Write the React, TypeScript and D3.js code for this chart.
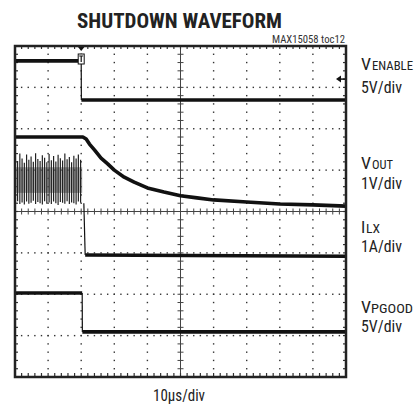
import React from "react";
import * as d3 from "d3";

// time axis: 0..100 µs (10 µs/div), vertical: 0..8 divisions
const xDomain = [0, 100];
const yDomain = [0, 8];

// VENABLE trace (div units)
const enableT = [0, 20, 20.05, 100];
const enableV = [7.64, 7.64, 6.695, 6.695];

// VOUT trace (div units)
const voutT = [0, 20.5, 21.5, 22.5, 24, 26, 28, 30, 33, 36, 40, 45, 50, 55, 60, 70, 80, 90, 100];
const voutV = [5.8, 5.8, 5.75, 5.63, 5.49, 5.29, 5.15, 5.0, 4.83, 4.71, 4.57, 4.47, 4.38, 4.33, 4.28, 4.23, 4.18, 4.16, 4.13];

// ILX switching region peaks / valleys (div units), one per cycle
const ilxPeaks = [5.35, 5.22, 5.4, 5.28, 5.18, 5.38, 5.25, 5.33, 5.2, 5.41, 5.27, 5.22, 5.36, 5.3, 5.19, 5.39, 5.24, 5.34, 5.21, 5.37, 5.29, 5.23, 5.4, 5.26, 5.32, 5.19, 5.35, 5.28, 5.38, 5.25];
const ilxValleys = [4.2, 4.25, 4.18, 4.22, 4.17, 4.24, 4.19, 4.21, 4.26, 4.18, 4.23, 4.2, 4.17, 4.25, 4.19, 4.22, 4.18, 4.24, 4.2, 4.16, 4.23, 4.21, 4.19, 4.25, 4.18, 4.22, 4.2, 4.17, 4.24, 4.21];
const ilxPeriod = 0.68;
const ilxBand = [4.45, 5.07];
const ilxAfterT = [20.8, 21.2, 100];
const ilxAfterV = [4.2, 2.95, 2.92];

// VPGOOD trace (div units)
const pgoodT = [0, 20.3, 20.35, 100];
const pgoodV = [2.03, 2.03, 1.09, 1.09];

const triggerT = 20;
const triggerLevel = 7.2;

const W = 417;
const H = 406;
const L = 15, R = 346, T = 46, B = 377;

const font = "'Liberation Sans Narrow', 'Roboto Condensed', 'Liberation Sans', Arial, sans-serif";

export default function App() {
  const x = d3.scaleLinear().domain(xDomain).range([L, R]);
  const y = d3.scaleLinear().domain(yDomain).range([B, T]);
  const line = d3.line<[number, number]>().x((d) => x(d[0])).y((d) => y(d[1]));

  const zip = (ts: number[], vs: number[]) => ts.map((t, i) => [t, vs[i]] as [number, number]);

  const dots: JSX.Element[] = [];
  for (let i = 1; i < 10; i++) {
    if (i === 5) continue;
    for (let k = 1; k < 40; k++) {
      dots.push(<rect key={`v${i}-${k}`} x={x(i * 10) - 0.7} y={y(k * 0.2) - 0.7} width={1.4} height={1.4} fill="#333" />);
    }
  }
  for (let j = 1; j < 8; j++) {
    if (j === 4) continue;
    for (let k = 1; k < 50; k++) {
      dots.push(<rect key={`h${j}-${k}`} x={x(k * 2) - 0.7} y={y(j) - 0.7} width={1.4} height={1.4} fill="#333" />);
    }
  }
  const ticks: JSX.Element[] = [];
  for (let k = 1; k < 50; k++) {
    ticks.push(<line key={`cx${k}`} x1={x(k * 2)} x2={x(k * 2)} y1={y(4) - 3} y2={y(4) + 3} stroke="#444" strokeWidth={1} />);
    ticks.push(<line key={`bt${k}`} x1={x(k * 2)} x2={x(k * 2)} y1={B - 4} y2={B} stroke="#333" strokeWidth={1.2} />);
    ticks.push(<line key={`tt${k}`} x1={x(k * 2)} x2={x(k * 2)} y1={T} y2={T + 3} stroke="#333" strokeWidth={1.2} />);
  }
  for (let k = 1; k < 40; k++) {
    ticks.push(<line key={`cy${k}`} x1={x(50) - 3} x2={x(50) + 3} y1={y(k * 0.2)} y2={y(k * 0.2)} stroke="#444" strokeWidth={1} />);
    ticks.push(<line key={`lt${k}`} x1={L} x2={L + 3} y1={y(k * 0.2)} y2={y(k * 0.2)} stroke="#333" strokeWidth={1.2} />);
    ticks.push(<line key={`rt${k}`} x1={R - 3} x2={R} y1={y(k * 0.2)} y2={y(k * 0.2)} stroke="#333" strokeWidth={1.2} />);
  }

  let sw = "";
  ilxPeaks.forEach((p, i) => {
    const t = i * ilxPeriod + 0.1;
    sw += `M${x(t)},${y(ilxValleys[i])}L${x(t)},${y(p)}`;
  });

  const traceStyle = { fill: "none", stroke: "#111", strokeWidth: 3.6, strokeLinejoin: "round" as const };
  const stepStyle = { fill: "none", stroke: "#111", strokeWidth: 1.2 };

  const segs = (ts: number[], vs: number[], jump: number) => {
    const pts = zip(ts, vs);
    return {
      a: line(pts.slice(0, jump + 1)) || "",
      j: line(pts.slice(jump, jump + 2)) || "",
      b: line(pts.slice(jump + 1)) || "",
    };
  };
  const en = segs(enableT, enableV, 1);
  const pg = segs(pgoodT, pgoodV, 1);
  const ilxAfter = zip(ilxAfterT, ilxAfterV);

  const tx = x(triggerT);
  const ly = y(triggerLevel);

  return (
    <svg width={W} height={H} style={{ position: "absolute", left: 0, top: 0, background: "#fff" }}>
      <rect width={W} height={H} fill="#fff" />
      <text x={77} y={28} fontFamily={font} fontWeight="bold" fontSize={20} textLength={205} lengthAdjust="spacingAndGlyphs" fill="#222">SHUTDOWN WAVEFORM</text>
      <text x={272} y={43} fontFamily={font} fontSize={10} textLength={73} lengthAdjust="spacingAndGlyphs" fill="#333">MAX15058 toc12</text>

      {dots}
      <line x1={x(50)} x2={x(50)} y1={T} y2={B} stroke="#444" strokeWidth={1} />
      <line x1={L} x2={R} y1={y(4)} y2={y(4)} stroke="#444" strokeWidth={1} />
      {ticks}

      {/* ILX */}
      <rect x={x(0.2)} y={y(ilxBand[1])} width={x(20.3) - x(0.2)} height={y(ilxBand[0]) - y(ilxBand[1])} fill="#777" opacity={0.6} />
      <path d={sw} stroke="#222" strokeWidth={1.2} fill="none" />
      <path d={line(ilxAfter.slice(0, 2)) || ""} {...stepStyle} />
      <path d={line(ilxAfter.slice(1)) || ""} {...traceStyle} />

      {/* VENABLE */}
      <path d={en.a} {...traceStyle} />
      <path d={en.j} {...stepStyle} />
      <path d={en.b} {...traceStyle} />

      {/* VOUT */}
      <path d={line(zip(voutT, voutV)) || ""} {...traceStyle} />

      {/* VPGOOD */}
      <path d={pg.a} {...traceStyle} />
      <path d={pg.j} {...stepStyle} />
      <path d={pg.b} {...traceStyle} />

      {/* trigger markers */}
      <path d={`M${tx - 4},${T}L${tx + 4},${T}L${tx},${T + 5}Z`} fill="#111" />
      <rect x={tx - 3} y={54} width={6} height={10} fill="#fff" stroke="#111" strokeWidth={1} />
      <path d={`M${tx - 2},${56}L${tx + 2},${56}M${tx},${56}L${tx},${62}`} stroke="#111" strokeWidth={1.2} fill="none" />
      <path d={`M${R - 10},${ly}L${R - 5},${ly - 3.5}L${R - 5},${ly + 3.5}Z`} fill="#111" />
      <line x1={R - 6} x2={R - 1} y1={ly} y2={ly} stroke="#111" strokeWidth={1.5} />

      <rect x={L} y={T} width={R - L} height={B - T} fill="none" stroke="#222" strokeWidth={2.5} />

      {/* channel labels */}
      <g fontFamily={font} fill="#222">
        <text x={361} y={70} fontSize={17} textLength={10} lengthAdjust="spacingAndGlyphs">V</text>
        <text x={372} y={70} fontSize={12.5} textLength={41} lengthAdjust="spacingAndGlyphs">ENABLE</text>
        <text x={361} y={93} fontSize={17} textLength={41} lengthAdjust="spacingAndGlyphs">5V/div</text>

        <text x={361} y={169} fontSize={16.5} textLength={10} lengthAdjust="spacingAndGlyphs">V</text>
        <text x={372} y={169} fontSize={12} textLength={21} lengthAdjust="spacingAndGlyphs">OUT</text>
        <text x={361} y={189} fontSize={16.5} textLength={41} lengthAdjust="spacingAndGlyphs">1V/div</text>

        <text x={361} y={233} fontSize={17}>I</text>
        <text x={366} y={233} fontSize={12.5} textLength={14} lengthAdjust="spacingAndGlyphs">LX</text>
        <text x={361} y={252} fontSize={17} textLength={41} lengthAdjust="spacingAndGlyphs">1A/div</text>

        <text x={361} y={313} fontSize={17} textLength={10} lengthAdjust="spacingAndGlyphs">V</text>
        <text x={371} y={313} fontSize={12.5} textLength={42} lengthAdjust="spacingAndGlyphs">PGOOD</text>
        <text x={361} y={332} fontSize={17} textLength={41} lengthAdjust="spacingAndGlyphs">5V/div</text>

        <text x={153} y={401} fontSize={17} textLength={52} lengthAdjust="spacingAndGlyphs">10μs/div</text>
      </g>
    </svg>
  );
}
